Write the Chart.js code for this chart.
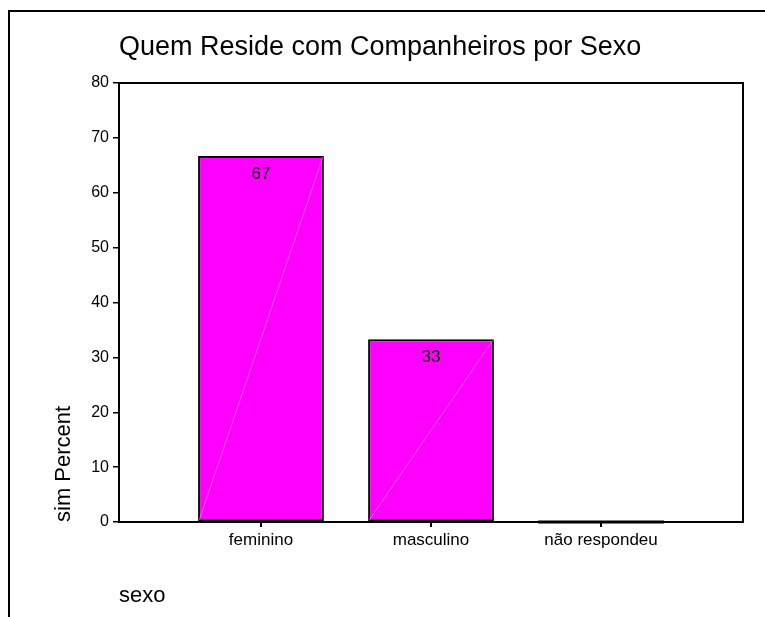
<!DOCTYPE html>
<html>
<head>
<meta charset="utf-8">
<script src="https://cdn.jsdelivr.net/npm/chart.js@4.4.0/dist/chart.umd.min.js"></script>
<style>
body { margin: 0; background: #fff; }
#wrap { width: 765px; height: 617px; }
</style>
</head>
<body>
<div id="wrap"><canvas id="chart" width="765" height="617"></canvas></div>
<script>
var categories = ['feminino', 'masculino', 'não respondeu']
var percent = [66.7, 33.3, 0]
var yTickValues = [0, 10, 20, 30, 40, 50, 60, 70, 80]

var FONT = "'Liberation Sans', Arial, sans-serif"

var points = []
for (var i = 0; i < categories.length; i++) {
  points.push({x: i + 1, y: percent[i]})
}

// outer frame lines (top and left) on white
var framePlugin = {
  id: 'frame',
  beforeDraw: function(chart) {
    var ctx = chart.ctx
    ctx.save()
    ctx.fillStyle = '#fff'
    ctx.fillRect(0, 0, chart.width, chart.height)
    ctx.strokeStyle = '#000'
    ctx.lineWidth = 2
    ctx.beginPath()
    ctx.moveTo(8, 11)
    ctx.lineTo(chart.width, 11)
    ctx.moveTo(9, 10)
    ctx.lineTo(9, chart.height)
    ctx.stroke()
    ctx.restore()
  },
  // top and right sides of the plot box
  afterDraw: function(chart) {
    var a = chart.chartArea
    var ctx = chart.ctx
    ctx.save()
    ctx.strokeStyle = '#000'
    ctx.lineWidth = 2
    ctx.beginPath()
    ctx.moveTo(a.left - 1, a.top)
    ctx.lineTo(a.right, a.top)
    ctx.lineTo(a.right, a.bottom + 1)
    ctx.stroke()
    ctx.restore()
  }
}

// diagonal sheen, value labels and the flat zero bar
var barExtras = {
  id: 'barExtras',
  afterDatasetsDraw: function(chart) {
    var ctx = chart.ctx
    var meta = chart.getDatasetMeta(0)
    ctx.save()
    meta.data.forEach(function(bar, idx) {
      var v = percent[idx]
      var half = bar.width / 2
      if (v === 0) {
        ctx.strokeStyle = '#000'
        ctx.lineWidth = 3
        ctx.beginPath()
        ctx.moveTo(bar.x - half, bar.base)
        ctx.lineTo(bar.x + half, bar.base)
        ctx.stroke()
        return
      }
      ctx.strokeStyle = 'rgba(255, 150, 255, 0.6)'
      ctx.lineWidth = 1
      ctx.beginPath()
      ctx.moveTo(bar.x - half + 1, bar.base - 1)
      ctx.lineTo(bar.x + half - 1, bar.y + 1)
      ctx.stroke()

      ctx.fillStyle = '#000'
      ctx.font = '17px ' + FONT
      ctx.textAlign = 'center'
      ctx.textBaseline = 'middle'
      ctx.fillText(Math.round(v), bar.x, bar.y + 18)
    })
    ctx.restore()
  }
}

var ctx = document.getElementById('chart')
var chart = new Chart(ctx, {
  type: 'bar',
  data: {
    datasets: [{
      data: points,
      backgroundColor: '#ff00ff',
      borderColor: '#000',
      borderWidth: 2,
      borderSkipped: false,
      categoryPercentage: 1,
      barPercentage: 0.74
    }]
  },
  options: {
    responsive: false,
    animation: false,
    layout: {padding: {left: 0, right: 22, top: 0, bottom: 0}},
    plugins: {
      legend: {display: false},
      tooltip: {enabled: false},
      title: {
        display: true,
        text: 'Quem Reside com Companheiros por Sexo',
        align: 'start',
        fullSize: false,
        color: '#000',
        font: {family: FONT, size: 27, weight: 'normal'},
        padding: {top: 31, bottom: 19.6}
      }
    },
    scales: {
      x: {
        type: 'linear',
        offset: false,
        min: 0.165,
        max: 3.835,
        afterBuildTicks: function(scale) {
          scale.ticks = categories.map(function(c, i) { return {value: i + 1} })
        },
        afterFit: function(scale) { scale.height = 95 },
        ticks: {
          color: '#000',
          font: {family: FONT, size: 17},
          padding: 3,
          maxRotation: 0,
          callback: function(value) { return categories[value - 1] }
        },
        grid: {offset: false, drawOnChartArea: false, drawTicks: true, tickLength: 5, color: '#000', lineWidth: 2},
        border: {display: true, color: '#000', width: 2},
        title: {
          display: true,
          text: 'sexo',
          align: 'start',
          color: '#000',
          font: {family: FONT, size: 22},
          padding: {top: 0, bottom: 8}
        }
      },
      y: {
        min: 0,
        max: 80,
        afterBuildTicks: function(scale) {
          scale.ticks = yTickValues.map(function(v) { return {value: v} })
        },
        afterFit: function(scale) { scale.width = 119 },
        ticks: {
          color: '#000',
          font: {family: FONT, size: 16},
          padding: 4
        },
        grid: {drawOnChartArea: false, drawTicks: true, tickLength: 6, color: '#000', lineWidth: 1.5},
        border: {display: true, color: '#000', width: 2},
        title: {
          display: true,
          text: 'sim Percent',
          align: 'start',
          color: '#000',
          font: {family: FONT, size: 22},
          padding: {top: 51, bottom: 0}
        }
      }
    }
  },
  plugins: [framePlugin, barExtras]
})
</script>
</body>
</html>
